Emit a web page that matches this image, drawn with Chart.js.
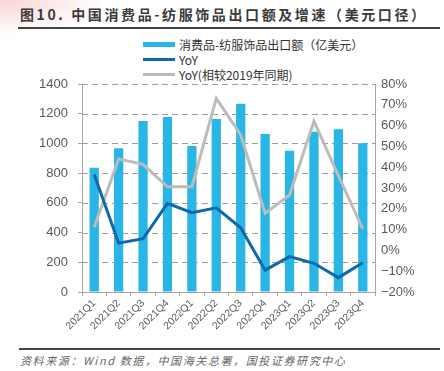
<!DOCTYPE html>
<html>
<head>
<meta charset="utf-8">
<script src="https://cdn.jsdelivr.net/npm/chart.js@4.4.0/dist/chart.umd.min.js"></script>
<style>
html,body{margin:0;padding:0;background:#fff;}
body{width:444px;height:371px;position:relative;overflow:hidden;font-family:"Noto Sans CJK SC","Liberation Sans",sans-serif;}
#glow{position:absolute;left:0;top:0;width:110px;height:36px;background:radial-gradient(ellipse at 0 0,rgba(240,170,175,0.5),rgba(255,255,255,0) 70%);}
#title{position:absolute;left:20px;top:4px;font-size:14px;font-weight:bold;color:#3a3a3a;letter-spacing:2.6px;white-space:nowrap;}
#tline{position:absolute;left:18px;top:27px;width:422px;height:2px;background:#444;}
#legend{position:absolute;left:143px;top:37px;font-size:12px;color:#333;}
.li{height:15px;display:flex;align-items:center;}
.sw{width:32px;margin-right:4px;}
#wrap{position:absolute;left:0;top:40px;width:444px;height:305px;}
#fline{position:absolute;left:19px;top:348px;width:421px;height:1.5px;background:#444;}
#src{position:absolute;left:20px;top:352px;font-size:11px;font-style:italic;color:#666;letter-spacing:1.6px;white-space:nowrap;}
</style>
</head>
<body>
<div id="glow"></div>
<div id="title">图10. 中国消费品-纺服饰品出口额及增速（美元口径）</div>
<div id="tline"></div>
<div id="legend">
  <div class="li"><span class="sw" style="height:5px;background:#29B6E6"></span>消费品-纺服饰品出口额（亿美元）</div>
  <div class="li"><span class="sw" style="height:3px;background:#0E68AE"></span>YoY</div>
  <div class="li"><span class="sw" style="height:3px;background:#BFBBBA"></span>YoY(相较2019年同期)</div>
</div>
<div id="wrap"><canvas id="c"></canvas></div>
<div id="fline"></div>
<div id="src">资料来源：Wind 数据，中国海关总署，国投证券研究中心</div>
<script>
const quarters=["2021Q1","2021Q2","2021Q3","2021Q4","2022Q1","2022Q2","2022Q3","2022Q4","2023Q1","2023Q2","2023Q3","2023Q4"];
const exportValue=[836,967,1151,1178,983,1164,1267,1063,950,1079,1096,1001];
const yoy=[36.5,3.5,5.6,22.6,18.1,20.5,10.9,-9.5,-3.0,-6.2,-13.1,-5.9];
const yoyVs2019=[11.1,44.0,41.4,30.6,30.6,73.1,55.5,17.8,26.6,62.2,36.0,10.4];

const grey="#595959";
const axisFont={family:"'Liberation Sans',Arial,sans-serif",size:13};

// dashed horizontal grid from the left axis ticks
const dashGrid={
    id:'dashGrid',
    beforeDatasetsDraw(chart){
        const {ctx,chartArea,scales:{y}}=chart;
        ctx.save();
        ctx.strokeStyle='#9E9E9E';
        ctx.lineWidth=1;
        ctx.setLineDash([6,4]);
        y.ticks.forEach(t=>{
            if(t.value===0) return;
            const py=Math.round(y.getPixelForValue(t.value))+0.5;
            ctx.beginPath();
            ctx.moveTo(chartArea.left,py);
            ctx.lineTo(chartArea.right,py);
            ctx.stroke();
        });
        ctx.restore();
    }
};

new Chart(document.getElementById("c"),{
    data:{
        labels:quarters,
        datasets:[
            {type:'line',label:'YoY',data:yoy,yAxisID:'y1',borderColor:'#0E68AE',borderWidth:3,pointRadius:0,tension:0,order:1},
            {type:'line',label:'YoY(相较2019年同期)',data:yoyVs2019,yAxisID:'y1',borderColor:'#BFBBBA',borderWidth:3,pointRadius:0,tension:0,order:2},
            {type:'bar',label:'消费品-纺服饰品出口额（亿美元）',data:exportValue,yAxisID:'y',backgroundColor:'#29B6E6',categoryPercentage:1,barPercentage:0.38,order:3}
        ]
    },
    plugins:[dashGrid],
    options:{
        responsive:true,
        maintainAspectRatio:false,
        animation:false,
        layout:{padding:{top:44,left:0,right:0,bottom:0}},
        plugins:{legend:{display:false},tooltip:{enabled:false}},
        scales:{
            x:{
                grid:{display:true,drawOnChartArea:false,offset:true,color:'#A6A6A6',tickLength:4},
                border:{color:'#A6A6A6',width:1},
                ticks:{color:grey,font:{family:axisFont.family,size:10.5},maxRotation:45,minRotation:45,padding:1},
                afterFit:s=>{s.height=53;}
            },
            y:{
                position:'left',min:0,max:1400,
                ticks:{stepSize:200,color:grey,font:axisFont,padding:10,callback:v=>String(v)},
                grid:{color:'#A6A6A6',drawOnChartArea:false,drawTicks:true,tickLength:4},
                border:{color:'#A6A6A6'},
                afterFit:s=>{s.width=82;}
            },
            y1:{
                position:'right',min:-20,max:80,
                ticks:{stepSize:10,color:grey,font:axisFont,padding:6,callback:v=>(v<0?'−'+Math.abs(v):v)+'%'},
                grid:{drawOnChartArea:false,drawTicks:false},
                border:{color:'#A6A6A6'},
                afterFit:s=>{s.width=69;}
            }
        }
    }
});
</script>
</body>
</html>
